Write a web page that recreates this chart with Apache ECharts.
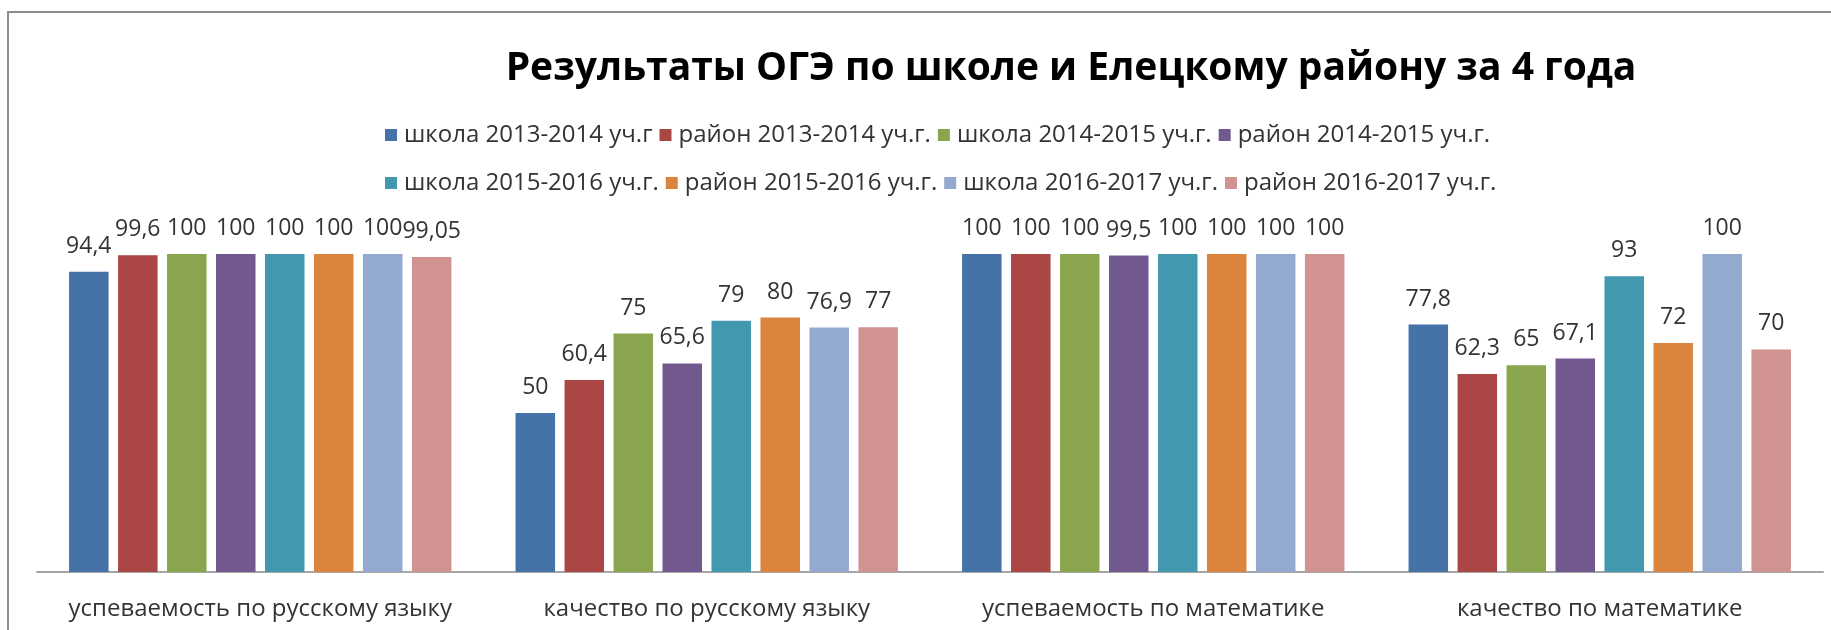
<!DOCTYPE html>
<html>
<head>
<meta charset="utf-8">
<script src="https://cdn.jsdelivr.net/npm/echarts@6/dist/echarts.min.js"></script>
<style>
  html, body { margin: 0; padding: 0; background: #fff; }
  #chart { width: 1831px; height: 630px; }
</style>
</head>
<body>
<div id="chart"></div>
<script>
var categories = [
  'успеваемость по русскому языку',
  'качество по русскому языку',
  'успеваемость по математике',
  'качество по математике'
];
var seriesNames = [
  'школа 2013-2014 уч.г', 'район 2013-2014 уч.г.', 'школа 2014-2015 уч.г.', 'район 2014-2015 уч.г.',
  'школа 2015-2016 уч.г.', 'район 2015-2016 уч.г.', 'школа 2016-2017 уч.г.', 'район 2016-2017 уч.г.'
];
var school1314 = [94.4, 50, 100, 77.8];
var district1314 = [99.6, 60.4, 100, 62.3];
var school1415 = [100, 75, 100, 65];
var district1415 = [100, 65.6, 99.5, 67.1];
var school1516 = [100, 79, 100, 93];
var district1516 = [100, 80, 100, 72];
var school1617 = [100, 76.9, 100, 100];
var district1617 = [99.05, 77, 100, 70];
var colors = ['#4572A7', '#AA4643', '#89A54E', '#71588F', '#4198AF', '#DB843D', '#93A9CF', '#D19392'];

var seriesData = [school1314, district1314, school1415, district1415,
                  school1516, district1516, school1617, district1617];

var FONT = 'Open Sans';
var TEXT = '#333333';
var myChart = echarts.init(document.getElementById('chart'));

// two legend rows of four, like the excel original
function legendRow(names, top) {
  return {
    data: names,
    left: 380, top: top,
    itemWidth: 12, itemHeight: 12, itemGap: 7,
    icon: 'rect',
    textStyle: { fontFamily: FONT, fontSize: 24, color: TEXT, padding: [0, 0, 0, 2] }
  };
}

var option = {
  animation: false,
  color: colors,
  title: {
    text: 'Результаты ОГЭ по школе и Елецкому району за 4 года',
    left: 1066,
    textAlign: 'center',
    top: 44,
    textStyle: { fontFamily: FONT, fontSize: 39, fontWeight: 'bold', color: '#000' }
  },
  legend: [
    legendRow(seriesNames.slice(0, 4), 118),
    legendRow(seriesNames.slice(4), 166)
  ],
  graphic: [
    {
      type: 'rect', silent: true,
      shape: { x: 8, y: 12, width: 1900, height: 700 },
      style: { fill: 'none', stroke: '#8c8c8c', lineWidth: 2 }
    }
  ],
  grid: { left: 37, right: 8, top: 254, bottom: 58, containLabel: false },
  xAxis: {
    type: 'category',
    data: categories,
    axisTick: { show: false },
    axisLine: { lineStyle: { color: '#a6a6a6', width: 2 } },
    axisLabel: { margin: 25, fontFamily: FONT, fontSize: 24, color: TEXT, interval: 0 }
  },
  yAxis: {
    type: 'value', min: 0, max: 100,
    show: false
  },
  series: seriesNames.map(function (name, i) {
    return {
      name: name,
      type: 'bar',
      data: seriesData[i],
      barWidth: 39.5,
      barGap: '24%',
      label: {
        show: true, position: 'top', distance: 14,
        fontFamily: FONT, fontSize: 23, color: TEXT,
        formatter: function (p) { return String(p.value).replace('.', ','); }
      }
    };
  })
};

myChart.setOption(option);
</script>
</body>
</html>
